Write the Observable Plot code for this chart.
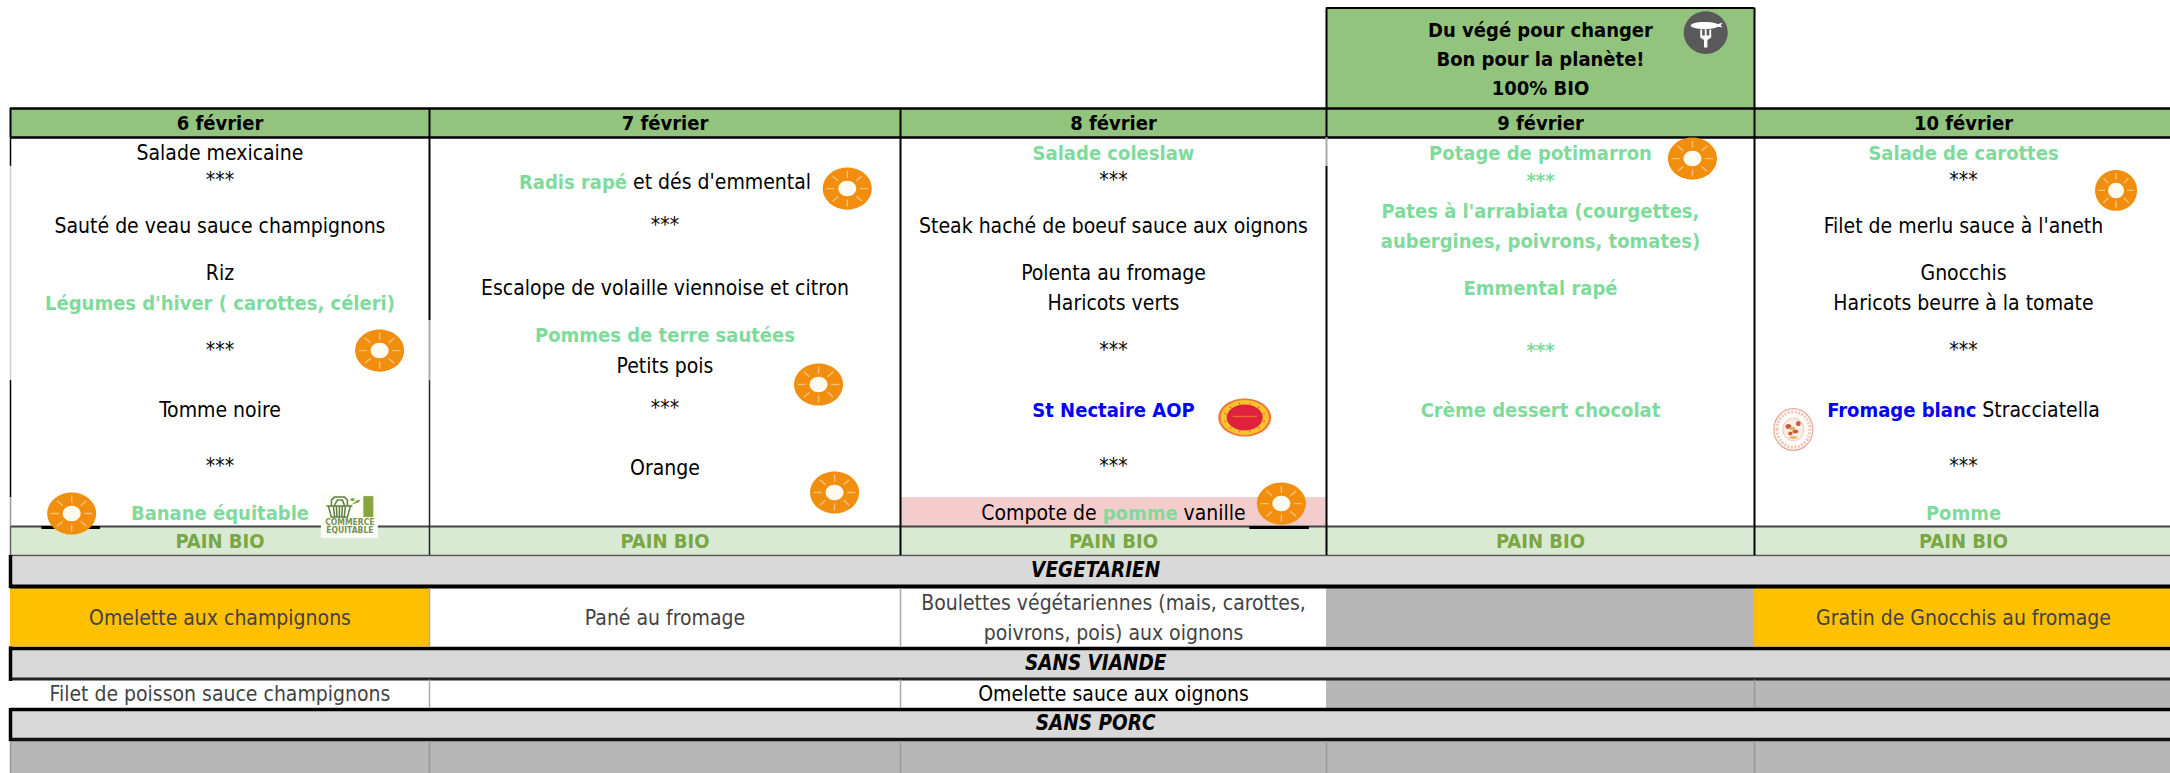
<!DOCTYPE html>
<html lang="fr">
<head>
<meta charset="utf-8">
<title>Menu du 6 au 10 février</title>
<script src="https://cdn.jsdelivr.net/npm/d3@7"></script>
<script src="https://cdn.jsdelivr.net/npm/@observablehq/plot@0.6"></script>
<style>
  html, body { margin: 0; padding: 0; background: #fff; overflow: hidden; }
  svg { display: block; }
</style>
</head>
<body>
<div id="chart"></div>
<script>
// ---- Table content. y positions are in "sheet lines", x in day columns. ----
const days = ["6 février", "7 février", "8 février", "9 février", "10 février"];
const banner = [["Du végé pour changer", 1], ["Bon pour la planète!", 1.97], ["100% BIO", 2.93]];
const bread = ["PAIN BIO", "PAIN BIO", "PAIN BIO", "PAIN BIO", "PAIN BIO"];

const menu6 = [[5.1,"Salade mexicaine","plain"],[6,"***","plain"],[7.53,"Sauté de veau sauce champignons","plain"],[9.1,"Riz","plain"],[10.1,"Légumes d'hiver ( carottes, céleri)","bio"],[11.67,"***","plain"],[13.67,"Tomme noire","plain"],[15.53,"***","plain"],[17.1,"Banane équitable","bio"]];
const menu7 = [[6.07,"Radis rapé et dés d'emmental","plain"],[7.5,"***","plain"],[9.6,"Escalope de volaille viennoise et citron","plain"],[11.17,"Pommes de terre sautées","bio"],[12.2,"Petits pois","plain"],[13.6,"***","plain"],[15.6,"Orange","plain"]];
const menu8 = [[5.1,"Salade coleslaw","bio"],[6,"***","plain"],[7.53,"Steak haché de boeuf sauce aux oignons","plain"],[9.1,"Polenta au fromage","plain"],[10.1,"Haricots verts","plain"],[11.67,"***","plain"],[13.67,"St Nectaire AOP","aop"],[15.53,"***","plain"],[17.1,"Compote de pomme vanille","plain"]];
const menu9 = [[5.1,"Potage de potimarron","bio"],[6,"***","bio"],[7.03,"Pates à l'arrabiata (courgettes,","bio"],[8.03,"aubergines, poivrons, tomates)","bio"],[9.6,"Emmental rapé","bio"],[11.67,"***","bio"],[13.67,"Crème dessert chocolat","bio"]];
const menu10 = [[5.1,"Salade de carottes","bio"],[6,"***","plain"],[7.53,"Filet de merlu sauce à l'aneth","plain"],[9.1,"Gnocchis","plain"],[10.1,"Haricots beurre à la tomate","plain"],[11.67,"***","plain"],[13.67,"Fromage blanc Stracciatella","plain"],[15.53,"***","plain"],[17.1,"Pomme","bio"]];
const menus = [menu6, menu7, menu8, menu9, menu10];

const mixedLines = new Map([
  ["Radis rapé et dés d'emmental", [["Radis rapé","bio"],[" et dés d'emmental","plain"]]],
  ["Compote de pomme vanille", [["Compote de ","plain"],["pomme","bio"],[" vanille","plain"]]],
  ["Fromage blanc Stracciatella", [["Fromage blanc","aop"],[" Stracciatella","plain"]]]
]);

const sections = [["VEGETARIEN", 19], ["SANS VIANDE", 22.1], ["SANS PORC", 24.1]];
const vegetarian = [["Omelette aux champignons", 0, 20.6, "#434343"], ["Pané au fromage", 1, 20.6, "#434343"], ["Boulettes végétariennes (mais, carottes,", 2, 20.1, "#434343"], ["poivrons, pois) aux oignons", 2, 21.1, "#434343"], ["Gratin de Gnocchis au fromage", 4, 20.6, "#434343"]];
const noMeat = [["Filet de poisson sauce champignons", 0, 23.13, "#434343"], ["Omelette sauce aux oignons", 2, 23.13, "#000"]];

// filled cells: first col, last col (exclusive), top line, bottom line, colour
const cells = [
  [3,4,0.25,3.6,"#93c47d"],
  [0,5,3.6,4.57,"#93c47d"],
  [2,3,16.57,17.53,"#f4cccc"],
  [0,5,17.53,18.5,"#d9ead3"],
  [0,5,18.55,19.55,"#d9d9d9"],
  [0,1,19.6,21.55,"#ffc000"],
  [3,4,19.6,21.55,"#b7b7b7"],
  [4,5,19.6,21.55,"#ffc000"],
  [0,5,21.65,22.6,"#d9d9d9"],
  [3,5,22.65,23.6,"#b7b7b7"],
  [0,5,23.65,24.6,"#d9d9d9"],
  [0,5,24.7,25.8,"#b7b7b7"]
];

// horizontal rules: first col, last col, line, colour, weight
const hRules = [
  [3,4,0.25,"#000",2],
  [0,5,3.6,"#000",2.5],
  [0,5,4.57,"#000",2.5],
  [0,5,17.53,"#444",2],
  [0.075,0.215,17.57,"#000",3],
  [2.82,2.96,17.57,"#000",3],
  [0,5,18.5,"#555",1.5],
  [0,5,19.53,"#000",4],
  [0,5,21.6,"#000",3.5],
  [0,5,22.62,"#222",3],
  [0,5,23.63,"#000",3.5],
  [0,5,24.63,"#111",3.5]
];

// vertical rules: column edge, top line, bottom line, colour, weight
const vRules = [
  [3,0.25,3.6,"#000",2],[4,0.25,3.6,"#000",2],
  [0,3.6,4.57,"#000",2],[1,3.6,4.57,"#000",2],[2,3.6,4.57,"#000",2],[3,3.6,4.57,"#000",2],[4,3.6,4.57,"#000",2],
  [0,4.57,5.53,"#000",1.5],[0,5.53,12.67,"#ccc",1.5],[0,12.67,16.57,"#000",1.5],[0,16.57,17.53,"#999",1.5],
  [1,4.57,10.67,"#000",2],[1,10.67,12.67,"#aaa",2],[1,12.67,17.53,"#222",1.5],
  [2,4.57,17.53,"#000",2],
  [3,4.57,5.53,"#aaa",2],[3,5.53,17.53,"#000",2],
  [4,4.57,17.53,"#000",2],
  [0,17.53,18.5,"#666",1.5],[1,17.53,18.5,"#222",1.5],[2,17.53,18.5,"#000",2],[3,17.53,18.5,"#000",2],[4,17.53,18.5,"#000",2],
  [0,18.5,19.6,"#000",3.5],[0,21.55,22.7,"#000",3.5],[0,23.6,24.7,"#000",3.5],
  [1,19.6,21.55,"#aaa",1.5],[2,19.6,21.55,"#aaa",1.5],[1,22.65,23.6,"#aaa",1.5],[2,22.65,23.6,"#aaa",1.5],[4,22.65,23.6,"#999",1.5],
  [0,24.7,25.8,"#999",1.5],[1,24.7,25.8,"#999",1.5],[2,24.7,25.8,"#999",1.5],[3,24.7,25.8,"#999",1.5],[4,24.7,25.8,"#999",1.5]
];

// icon anchors: col position, line
const suns = [[0.881,11.67],[1.887,6.27],[1.826,12.8],[1.86,16.4],[0.146,17.1],[2.894,16.77],[3.855,5.27]];
const smallSuns = [[4.865,6.33]];
const forkBadge = [[3.886,1.07]];
const aopBadge = [[2.808,13.9]];
const farmBadge = [[4.093,14.3]];
const fairTradeBox = [[0.742,0.878,16.43,17.93]];
const fairTradeBasket = [[0.785,16.92]];
const fairTradeLeaf = [[0.826,16.7]];
const fairTradeTag = [[0.854,16.87]];
const fairTradeWords = [["COMMERCE",0.81,17.38],["ÉQUITABLE",0.81,17.65]];

// ---- Styles ----
const toneFill = {plain:"#000", bio:"#7fdb9b", aop:"#0000ff"};
const toneWeight = {plain:400, bio:700, aop:700};
const font = "'DejaVu Sans Condensed','DejaVu Sans',sans-serif";
const plainSize = 21;
const boldSize = 20;
const toneSize = {plain: plainSize, bio: boldSize, aop: boldSize};

// ---- Helpers ----
const ellipsePath = (c, rx, ry, cx = 0, cy = 0) => {
  const k = 0.5523;
  c.moveTo(cx - rx, cy);
  c.bezierCurveTo(cx - rx, cy - k*ry, cx - k*rx, cy - ry, cx, cy - ry);
  c.bezierCurveTo(cx + k*rx, cy - ry, cx + rx, cy - k*ry, cx + rx, cy);
  c.bezierCurveTo(cx + rx, cy + k*ry, cx + k*rx, cy + ry, cx, cy + ry);
  c.bezierCurveTo(cx - k*rx, cy + ry, cx - rx, cy + k*ry, cx - rx, cy);
  c.closePath();
};
const ellipse = (ratio) => ({draw(c, size){ const r = Math.sqrt(size/Math.PI); ellipsePath(c, r, r*ratio); }});
const rays = (ratio) => ({draw(c, size){
  const r = Math.sqrt(size/Math.PI);
  for (let i = 0; i < 8; i++) {
    const a = i*Math.PI/4;
    c.moveTo(0.52*r*Math.cos(a), 0.52*r*ratio*Math.sin(a));
    c.lineTo(0.85*r*Math.cos(a), 0.85*r*ratio*Math.sin(a));
  }
}});
const forkSymbol = {draw(c){
  ellipsePath(c, 14, 3.6, -1, -7);
  c.moveTo(11,-8); c.lineTo(17,-10); c.lineTo(15,-7); c.lineTo(17,-5); c.lineTo(11,-6); c.closePath();
  c.moveTo(-5.5,-3); c.lineTo(-3.5,-3); c.lineTo(-3.5,3); c.lineTo(-0.9,3); c.lineTo(-0.9,-3); c.lineTo(0.9,-3); c.lineTo(0.9,3);
  c.lineTo(3.5,3); c.lineTo(3.5,-3); c.lineTo(5.5,-3); c.lineTo(5.5,5); c.lineTo(1.7,7.5); c.lineTo(1.7,15); c.lineTo(-1.7,15); c.lineTo(-1.7,7.5); c.lineTo(-5.5,5); c.closePath();
}};
const basketSymbol = {draw(c){
  c.moveTo(-11,-2); c.lineTo(11,-2); c.lineTo(8,9); c.lineTo(-8,9); c.closePath();
  for (const x of [-6,-3,0,3,6]) { c.moveTo(x,-2); c.lineTo(x*0.8,9); }
  c.moveTo(-13,-2); c.lineTo(13,-2);
  c.moveTo(-8,-2); c.lineTo(-8,-8); c.lineTo(-5,-11); c.lineTo(5,-11); c.lineTo(8,-8); c.lineTo(8,-2);
  c.moveTo(-5,-3); c.lineTo(-2,-8); c.lineTo(3,-8); c.lineTo(5,-3);
}};
const leafSymbol = {draw(c){
  c.moveTo(-5,3); c.lineTo(0,-1); c.lineTo(4,-2); c.lineTo(2,1); c.closePath();
  ellipsePath(c, 2.2, 1.6, -4, -2);
}};
const tagSymbol = {draw(c){ c.moveTo(-5,-10.5); c.lineTo(5,-10.5); c.lineTo(5,10.5); c.lineTo(-5,10.5); c.closePath(); }};
const aopBand = {draw(c){
  c.moveTo(-12,-1); c.lineTo(12,-1);
  for (let i = 0; i < 12; i++) {
    const a = i*Math.PI/6 + 0.26;
    c.moveTo(19*Math.cos(a), 13.7*Math.sin(a));
    c.lineTo(21*Math.cos(a), 15.1*Math.sin(a));
  }
}};
const farmScribble = {draw(c){
  ellipsePath(c,3,2.4,-5,-3); ellipsePath(c,2.4,2.6,5,-6); ellipsePath(c,3,2,2,2); ellipsePath(c,2.2,2,-3,4);
}};
const farmYellow = {draw(c){ ellipsePath(c,3,1.8,-1,-1); ellipsePath(c,4,1.2,0,8); }};

const col = (i) => i[0];
const line = (i) => i[1];
const dotsOf = (rows, options) => Plot.dot(rows, {x: col, y: line, ...options});

const menuRows = menus.flatMap((rows, i) => rows.map(([slot, label, tone]) => ({col: i + 0.5, slot, label, tone})));
const menuText = (tone) => Plot.text(menuRows.filter(d => d.tone === tone), {
  x: "col", y: "slot", text: "label",
  fill: toneFill[tone], fontWeight: toneWeight[tone], fontSize: toneSize[tone], fontFamily: font
});

const svg = Plot.plot({
  width: 2170,
  height: 773,
  margin: 0,
  axis: null,
  style: {background: "#fff", overflow: "hidden"},
  x: {type: "linear", domain: [0,1,2,3,4,5], range: [10,429,900,1326,1754,2172]},
  y: {type: "linear", domain: [0, 773/30], range: [0, 773]},
  marks: [
    Plot.rect(cells, {x1: d => d[0], x2: d => d[1], y1: d => d[2], y2: d => d[3], fill: d => d[4]}),
    Plot.ruleY(hRules, {x1: d => d[0], x2: d => d[1], y: d => d[2], stroke: d => d[3], strokeWidth: d => d[4]}),
    Plot.ruleX(vRules, {x: d => d[0], y1: d => d[1], y2: d => d[2], stroke: d => d[3], strokeWidth: d => d[4]}),

    // banner and headers
    Plot.text(banner, {x: () => 3.5, y: d => d[1], text: d => d[0], fontWeight: 700, fill: "#000", fontFamily: font, fontSize: boldSize}),
    Plot.text(days, {x: (d, i) => i + 0.5, y: () => 4.1, text: d => d, fontWeight: 700, fill: "#000", fontFamily: font, fontSize: boldSize}),

    // menu
    menuText("plain"), menuText("bio"), menuText("aop"),
    Plot.text(bread, {x: (d, i) => i + 0.5, y: () => 18.03, text: d => d, fontWeight: 700, fill: "#7aa646", fontFamily: font, fontSize: boldSize}),

    // sections
    Plot.text(sections, {x: () => 2.458, y: d => d[1], text: d => d[0], fontWeight: 700, fontStyle: "italic", fill: "#000", fontFamily: font, fontSize: 20.5}),
    Plot.text(vegetarian, {x: d => d[1] + 0.5, y: d => d[2], text: d => d[0], fill: d => d[3], fontFamily: font, fontSize: plainSize}),
    Plot.text(noMeat, {x: d => d[1] + 0.5, y: d => d[2], text: d => d[0], fill: d => d[3], fontFamily: font, fontSize: plainSize}),

    // sun labels
    dotsOf(suns, {r: 24.5, symbol: ellipse(0.86), fill: "#f18e0d"}),
    dotsOf(suns, {r: 24.5, symbol: rays(0.86), fill: "none", stroke: "#f8c07c", strokeWidth: 1.4}),
    dotsOf(suns, {r: 9, symbol: ellipse(0.86), fill: "#fffaf0"}),
    dotsOf(smallSuns, {r: 21, symbol: ellipse(0.97), fill: "#f18e0d"}),
    dotsOf(smallSuns, {r: 21, symbol: rays(0.97), fill: "none", stroke: "#f8c07c", strokeWidth: 1.4}),
    dotsOf(smallSuns, {r: 8, symbol: ellipse(0.97), fill: "#fffaf0"}),

    // banner fork badge
    dotsOf(forkBadge, {r: 22, symbol: ellipse(0.97), fill: "#595959"}),
    dotsOf(forkBadge, {r: 10, symbol: forkSymbol, fill: "#fff"}),

    // AOP seal
    dotsOf(aopBadge, {r: 26.5, symbol: ellipse(0.72), fill: "#ee7a3a"}),
    dotsOf(aopBadge, {r: 24, symbol: ellipse(0.72), fill: "#f7c42b"}),
    dotsOf(aopBadge, {r: 18, symbol: ellipse(0.72), fill: "#e0203f"}),
    dotsOf(aopBadge, {r: 10, symbol: aopBand, fill: "none", stroke: "#e9662f", strokeWidth: 1.4}),

    // farm seal
    dotsOf(farmBadge, {r: 19.5, symbol: ellipse(1.07), fill: "#fffaf7", stroke: "#e3a998", strokeWidth: 1.2}),
    dotsOf(farmBadge, {r: 16.5, symbol: ellipse(1.07), fill: "none", stroke: "#efc7bb", strokeWidth: 3, strokeDasharray: "2 1.5"}),
    dotsOf(farmBadge, {r: 10.5, symbol: ellipse(1.07), fill: "#fbeee6", stroke: "#e8b9aa", strokeWidth: 0.8}),
    dotsOf(farmBadge, {r: 10, symbol: farmScribble, fill: "#cf5a3d"}),
    dotsOf(farmBadge, {r: 10, symbol: farmYellow, fill: "#dcb45e"}),

    // fair trade logo
    Plot.rect(fairTradeBox, {x1: d => d[0], x2: d => d[1], y1: d => d[2], y2: d => d[3], fill: "#fdfdf8"}),
    dotsOf(fairTradeBasket, {r: 10, symbol: basketSymbol, fill: "none", stroke: "#5f7f3c", strokeWidth: 1.5}),
    dotsOf(fairTradeLeaf, {r: 10, symbol: leafSymbol, fill: "#7fa23d"}),
    dotsOf(fairTradeTag, {r: 10, symbol: tagSymbol, fill: "#87a63f"}),
    Plot.text(fairTradeWords, {x: d => d[1], y: d => d[2], text: d => d[0], fontFamily: font, fontSize: 8.5, fontWeight: 700, fill: "#77924e"})
  ]
});

// Two-coloured lines keep their centred anchor: the text stays a single element.
d3.select(svg).selectAll("text").each(function () {
  const parts = mixedLines.get(this.textContent);
  if (!parts) return;
  this.textContent = "";
  for (const [chunk, tone] of parts) {
    d3.select(this).append("tspan")
      .attr("fill", toneFill[tone])
      .attr("font-weight", toneWeight[tone])
      .attr("font-size", toneSize[tone])
      .text(chunk);
  }
});

document.getElementById("chart").append(svg);
</script>
</body>
</html>
